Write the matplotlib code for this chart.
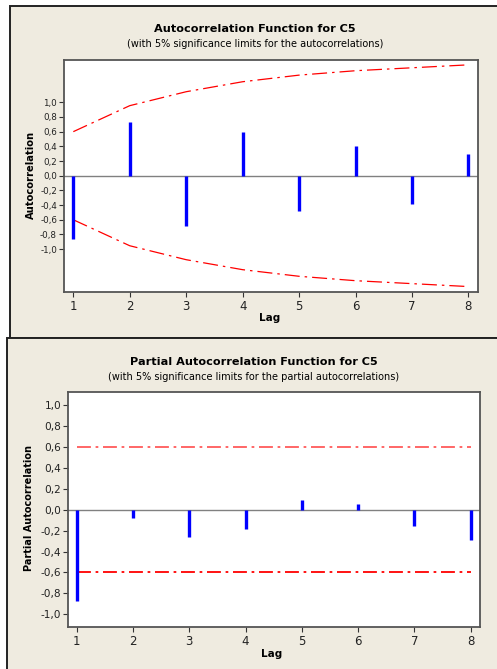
import matplotlib
matplotlib.use("Agg")
import matplotlib.pyplot as plt
from matplotlib.patches import Rectangle
from matplotlib.ticker import FuncFormatter

lags = [1, 2, 3, 4, 5, 6, 7, 8]
acf_vals = [-0.867, 0.73, -0.68, 0.59, -0.48, 0.40, -0.38, 0.29]
acf_limits = [0.60, 0.954, 1.144, 1.28, 1.37, 1.43, 1.47, 1.51]
pacf_vals = [-0.871, -0.083, -0.264, -0.188, 0.093, 0.055, -0.156, -0.293]
pacf_limit = 0.6
yticks = [-1.0, -0.8, -0.6, -0.4, -0.2, 0.0, 0.2, 0.4, 0.6, 0.8, 1.0]

W, H = 497, 669
BG = "#EFEBE0"
fig = plt.figure(figsize=(W / 100, H / 100), dpi=100)
fig.patch.set_facecolor("white")

def fx(px):
    return px / W

def fy(py):
    return 1 - py / H

# panel backgrounds
fig.patches.append(Rectangle((fx(9.5), fy(338)), fx(W + 5) - fx(9.5), fy(5.5) - fy(338),
                             transform=fig.transFigure, facecolor=BG, edgecolor="#222222",
                             linewidth=1.4, zorder=-10))
fig.patches.append(Rectangle((fx(7), fy(H + 5)), fx(W + 5) - fx(7), fy(338) - fy(H + 5),
                             transform=fig.transFigure, facecolor=BG, edgecolor="#222222",
                             linewidth=1.4, zorder=-10))

fmt = FuncFormatter(lambda v, p: ("%.1f" % v).replace(".", ",").replace("-0,0", "0,0"))
font = "DejaVu Sans"

def style_axes(ax, ysize):
    for s in ax.spines.values():
        s.set_color("#555555")
        s.set_linewidth(1.3)
    ax.set_facecolor("white")
    ax.set_xticks(lags)
    ax.set_yticks(yticks)
    ax.yaxis.set_major_formatter(fmt)
    ax.tick_params(axis="both", direction="out", length=3.5, width=0.8, color="#333333",
                   top=False, right=False)
    ax.tick_params(axis="y", labelsize=ysize, pad=1.5, labelcolor="#222222")
    ax.tick_params(axis="x", labelsize=8.5, pad=2, labelcolor="#222222")
    ax.axhline(0, color="#808080", linewidth=1.0, zorder=1)

# ACF
ax1 = fig.add_axes([fx(64), fy(292), fx(478) - fx(64), fy(60) - fy(292)])
ax1.set_zorder(1)
ax1.set_xlim(0.835, 8.17)
ax1.set_ylim(-1.584, 1.576)
style_axes(ax1, 6.3)
ax1.vlines(lags, 0, acf_vals, color="#0000FF", linewidth=2.4, zorder=3)
ax1.plot(lags, acf_limits, color="red", linewidth=0.9, dashes=(12, 4, 2, 4), zorder=2)
ax1.plot(lags, [-v for v in acf_limits], color="red", linewidth=0.9, dashes=(12, 4, 2, 4), zorder=2)
fig.text(fx(255), fy(29), "Autocorrelation Function for C5", ha="center", va="center",
         fontsize=8.1, fontweight="bold", family=font)
fig.text(fx(255), fy(44), "(with 5% significance limits for the autocorrelations)", ha="center",
         va="center", fontsize=7.0, family=font)
fig.text(fx(270), fy(318), "Lag", ha="center", va="center", fontsize=7.5, fontweight="bold",
         family=font)
fig.text(fx(31), fy(175), "Autocorrelation", ha="center", va="center", rotation=90,
         fontsize=7.2, fontweight="bold", family=font)

# PACF
ax2 = fig.add_axes([fx(68.3), fy(627.3), fx(480) - fx(68.3), fy(392.3) - fy(627.3)])
ax2.set_zorder(1)
ax2.set_xlim(0.851, 8.165)
ax2.set_ylim(-1.125, 1.123)
style_axes(ax2, 7.6)
ax2.vlines(lags, 0, pacf_vals, color="#0000FF", linewidth=2.4, zorder=3)
ax2.plot([lags[0], lags[-1]], [pacf_limit, pacf_limit], color="#FF5A5A", linewidth=1.3,
         dashes=(7.7, 2.6, 1.5, 2.6), zorder=2)
ax2.plot([lags[0], lags[-1]], [-pacf_limit, -pacf_limit], color="red", linewidth=1.3,
         dashes=(7.7, 2.6, 1.5, 2.6), zorder=2)
fig.text(fx(254), fy(362), "Partial Autocorrelation Function for C5", ha="center", va="center",
         fontsize=8.1, fontweight="bold", family=font)
fig.text(fx(254), fy(377), "(with 5% significance limits for the partial autocorrelations)",
         ha="center", va="center", fontsize=7.0, family=font)
fig.text(fx(272), fy(654), "Lag", ha="center", va="center", fontsize=7.5, fontweight="bold",
         family=font)
fig.text(fx(29), fy(508), "Partial Autocorrelation", ha="center", va="center", rotation=90,
         fontsize=7.0, fontweight="bold", family=font)

fig.savefig("out.png", dpi=100, facecolor=fig.get_facecolor())
